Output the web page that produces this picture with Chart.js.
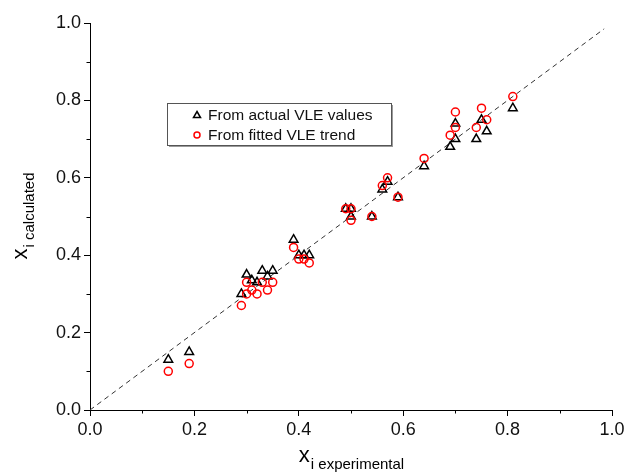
<!DOCTYPE html>
<html lang="en">
<head>
    <meta charset="UTF-8">
    <title>x calculated vs x experimental</title>
    <script src="https://cdn.jsdelivr.net/npm/chart.js"></script>
    <style>
        html, body {
            margin: 0;
            padding: 0;
            background: #ffffff;
        }
        #wrap {
            width: 628px;
            height: 473px;
        }
    </style>
</head>
<body>
    <div id="wrap">
        <canvas id="parity" width="628" height="473"></canvas>
    </div>

    <script>
        // From actual VLE values (triangles)
        const actualX = [0.15, 0.19, 0.29, 0.30, 0.31, 0.32, 0.33, 0.34, 0.35, 0.39, 0.40, 0.41, 0.42,
                         0.49, 0.50, 0.50, 0.54, 0.56, 0.57, 0.59, 0.64, 0.69, 0.70, 0.70, 0.74, 0.75, 0.76, 0.81];
        const actualY = [0.13, 0.15, 0.30, 0.35, 0.335, 0.33, 0.36, 0.345, 0.36, 0.44, 0.40, 0.40, 0.40,
                         0.52, 0.52, 0.50, 0.50, 0.57, 0.59, 0.55, 0.63, 0.68, 0.70, 0.74, 0.70, 0.75, 0.72, 0.78];

        // From fitted VLE trend (circles)
        const fittedX = [0.15, 0.19, 0.29, 0.30, 0.30, 0.31, 0.32, 0.33, 0.34, 0.35, 0.39, 0.40, 0.41, 0.42,
                         0.49, 0.50, 0.50, 0.54, 0.56, 0.57, 0.59, 0.64, 0.69, 0.70, 0.70, 0.74, 0.75, 0.76, 0.81];
        const fittedY = [0.10, 0.12, 0.27, 0.33, 0.30, 0.31, 0.30, 0.33, 0.31, 0.33, 0.42, 0.39, 0.39, 0.38,
                         0.52, 0.52, 0.49, 0.50, 0.58, 0.60, 0.55, 0.65, 0.71, 0.77, 0.73, 0.73, 0.78, 0.75, 0.81];

        // y = x reference line
        const diagX = [0, 0.985];
        const diagY = [0, 0.985];

        const majorTicks = [0, 0.2, 0.4, 0.6, 0.8, 1.0];
        const minorTicks = [0.1, 0.3, 0.5, 0.7, 0.9];

        const legendLabels = ['From actual VLE values', 'From fitted VLE trend'];

        const FONT = "'Liberation Sans', Arial, Helvetica, sans-serif";

        const toPoints = (xs, ys) => xs.map((x, i) => ({ x: x, y: ys[i] }));

        // minor ticks (shorter, outward)
        const minorTickPlugin = {
            id: 'minorTicks',
            afterDraw(chart) {
                const ctx = chart.ctx;
                const xs = chart.scales.x, ys = chart.scales.y;
                const area = chart.chartArea;
                ctx.save();
                ctx.strokeStyle = '#000';
                ctx.lineWidth = 1;
                ctx.beginPath();
                minorTicks.forEach(v => {
                    const px = Math.round(xs.getPixelForValue(v)) + 0.5;
                    ctx.moveTo(px, area.bottom);
                    ctx.lineTo(px, area.bottom + 3.5);
                    const py = Math.round(ys.getPixelForValue(v)) + 0.5;
                    ctx.moveTo(area.left, py);
                    ctx.lineTo(area.left - 3.5, py);
                });
                ctx.stroke();
                ctx.restore();
            }
        };

        // axis titles with subscripts
        const titlePlugin = {
            id: 'subTitles',
            afterDraw(chart) {
                const ctx = chart.ctx;
                const area = chart.chartArea;
                ctx.save();
                ctx.fillStyle = '#000';
                ctx.textBaseline = 'alphabetic';

                // x axis title
                ctx.font = '22px ' + FONT;
                const mainW = ctx.measureText('x').width;
                ctx.font = '15px ' + FONT;
                const subW = ctx.measureText('i experimental').width;
                let sx = (area.left + area.right) / 2 - (mainW + subW) / 2;
                ctx.font = '22px ' + FONT;
                ctx.fillText('x', sx, 462);
                ctx.font = '15px ' + FONT;
                ctx.fillText('i experimental', sx + mainW + 1, 469);

                // y axis title (rotated)
                ctx.translate(27, (area.top + area.bottom) / 2);
                ctx.rotate(-Math.PI / 2);
                ctx.font = '22px ' + FONT;
                const mW = ctx.measureText('x').width;
                ctx.font = '15px ' + FONT;
                const sW = ctx.measureText('i calculated').width;
                let sy = -(mW + sW) / 2;
                ctx.font = '22px ' + FONT;
                ctx.fillText('x', sy, 0);
                ctx.font = '15px ' + FONT;
                ctx.fillText('i calculated', sy + mW + 1, 7);
                ctx.restore();
            }
        };

        // legend box inside the plot
        const legendPlugin = {
            id: 'insideLegend',
            afterDraw(chart) {
                const ctx = chart.ctx;
                const area = chart.chartArea;
                const bx = area.left + 77, by = area.top + 80, bw = 224, bh = 42;
                ctx.save();
                // shadow
                ctx.fillStyle = '#9a9a9a';
                ctx.fillRect(bx + 2, by + 2, bw, bh);
                ctx.fillStyle = '#fff';
                ctx.fillRect(bx, by, bw, bh);
                ctx.strokeStyle = '#555';
                ctx.lineWidth = 1;
                ctx.strokeRect(bx + 0.5, by + 0.5, bw, bh);

                ctx.font = '15.5px ' + FONT;
                ctx.textBaseline = 'middle';
                ctx.fillStyle = '#111';
                const mx = bx + 30, tx = bx + 41;
                const y1 = by + 12, y2 = by + 32;

                // triangle marker
                ctx.strokeStyle = '#000';
                ctx.lineWidth = 1.5;
                ctx.beginPath();
                ctx.moveTo(mx, y1 - 3.5);
                ctx.lineTo(mx + 3.5, y1 + 2.5);
                ctx.lineTo(mx - 3.5, y1 + 2.5);
                ctx.closePath();
                ctx.stroke();
                ctx.fillText(legendLabels[0], tx, y1 + 1);

                // circle marker
                ctx.strokeStyle = '#ff0000';
                ctx.beginPath();
                ctx.arc(mx, y2, 3, 0, Math.PI * 2);
                ctx.stroke();
                ctx.fillText(legendLabels[1], tx, y2 + 1);
                ctx.restore();
            }
        };

        const ctx = document.getElementById('parity').getContext('2d');

        const axisCommon = {
            type: 'linear',
            min: 0,
            max: 1,
            grid: {
                display: true,
                drawOnChartArea: false,
                drawTicks: true,
                tickLength: 6,
                color: '#000',
                lineWidth: 1
            },
            border: {
                display: true,
                color: '#000',
                width: 1
            },
            afterBuildTicks: (scale) => {
                scale.ticks = majorTicks.map(v => ({ value: v }));
            },
            ticks: {
                color: '#111',
                font: { family: FONT, size: 18 },
                padding: 3,
                callback: (v) => Number(v).toFixed(1)
            }
        };

        const chart = new Chart(ctx, {
            type: 'scatter',
            data: {
                datasets: [
                    {
                        label: legendLabels[1],
                        data: toPoints(fittedX, fittedY),
                        pointStyle: 'circle',
                        pointRadius: 4,
                        borderColor: '#ff0000',
                        backgroundColor: 'rgba(0,0,0,0)',
                        borderWidth: 1.5
                    },
                    {
                        label: legendLabels[0],
                        data: toPoints(actualX, actualY),
                        pointStyle: 'triangle',
                        pointRadius: 5,
                        borderColor: '#000',
                        backgroundColor: 'rgba(0,0,0,0)',
                        borderWidth: 1.5
                    },
                    {
                        label: 'y = x',
                        data: toPoints(diagX, diagY),
                        showLine: true,
                        pointRadius: 0,
                        borderColor: '#333',
                        borderWidth: 1,
                        borderDash: [5, 4]
                    }
                ]
            },
            options: {
                responsive: false,
                animation: false,
                layout: {
                    padding: { top: 23, right: 16, left: 0, bottom: 0 }
                },
                plugins: {
                    legend: { display: false },
                    tooltip: { enabled: false }
                },
                scales: {
                    x: Object.assign({}, axisCommon, {
                        position: 'bottom',
                        afterFit: (scale) => { scale.height = 63; }
                    }),
                    y: Object.assign({}, axisCommon, {
                        position: 'left',
                        afterFit: (scale) => { scale.width = 90; }
                    })
                }
            },
            plugins: [minorTickPlugin, titlePlugin, legendPlugin]
        });
    </script>
</body>
</html>
